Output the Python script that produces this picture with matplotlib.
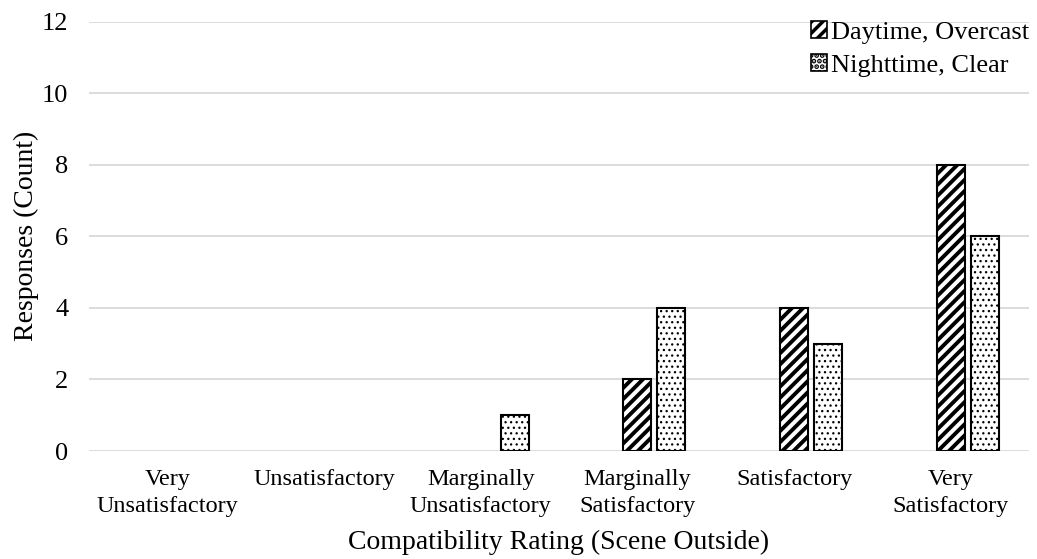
import numpy as np
import matplotlib
matplotlib.use('Agg')
import matplotlib.pyplot as plt
from matplotlib.patches import Patch

plt.rcParams['font.family'] = ['Liberation Serif', 'DejaVu Serif']
plt.rcParams['hatch.linewidth'] = 2.5

categories = ['Very\nUnsatisfactory', 'Unsatisfactory', 'Marginally\nUnsatisfactory',
              'Marginally\nSatisfactory', 'Satisfactory', 'Very\nSatisfactory']
daytime_overcast = [0, 0, 0, 2, 4, 8]
nighttime_clear = [0, 0, 1, 4, 3, 6]
series_labels = ['Daytime, Overcast', 'Nighttime, Clear']
y_ticks = [0, 2, 4, 6, 8, 10, 12]

fig = plt.figure(figsize=(10.37, 5.59), dpi=100)
ax = fig.add_axes([0.0858, 0.1932, 0.9065, 0.7683])

x = np.arange(len(categories))
w = 0.179
off = 0.217

def set_hlw(patch, lw):
    if hasattr(patch, 'set_hatch_linewidth'):
        patch.set_hatch_linewidth(lw)

# zero-height bars are skipped so no stray outlines show at the baseline
for xs, vals, hatch, hlw in [(x, daytime_overcast, '///', 2.8), (x + off, nighttime_clear, '...', 0.9)]:
    vals = np.array(vals)
    m = vals > 0
    bars = ax.bar(xs[m], vals[m], width=w, color='white', edgecolor='black',
                  linewidth=1.5, hatch=hatch, zorder=3)
    for b in bars:
        set_hlw(b, hlw)

ax.set_xlim(-0.5, len(categories) - 0.5)
ax.set_ylim(0, 12)
ax.set_yticks(y_ticks)
ax.set_xticks(x)
ax.set_xticklabels(categories, fontsize=17.5, linespacing=1.4)
ax.tick_params(axis='y', labelsize=19, length=0, pad=15)
ax.tick_params(axis='x', length=0, pad=13)
ax.grid(axis='y', color='#d9d9d9', linewidth=1.3, zorder=0)
ax.grid(axis='x', visible=False)
for s in ax.spines.values():
    s.set_visible(False)

ax.set_ylabel('Responses (Count)', fontsize=20, labelpad=2)
ax.set_xlabel('Compatibility Rating (Scene Outside)', fontsize=20, labelpad=9)

h1 = Patch(facecolor='white', edgecolor='black', hatch='///', linewidth=1.2)
h2 = Patch(facecolor='white', edgecolor='black', hatch='...', linewidth=1.2)
set_hlw(h1, 2.8)
set_hlw(h2, 0.9)
ax.legend([h1, h2], series_labels, loc='upper right', bbox_to_anchor=(1.0115, 1.026),
          frameon=False, fontsize=19, handlelength=0.6, handleheight=0.6,
          handletextpad=0.15, labelspacing=0.4, borderaxespad=0)

fig.savefig('out.png', dpi=100)
